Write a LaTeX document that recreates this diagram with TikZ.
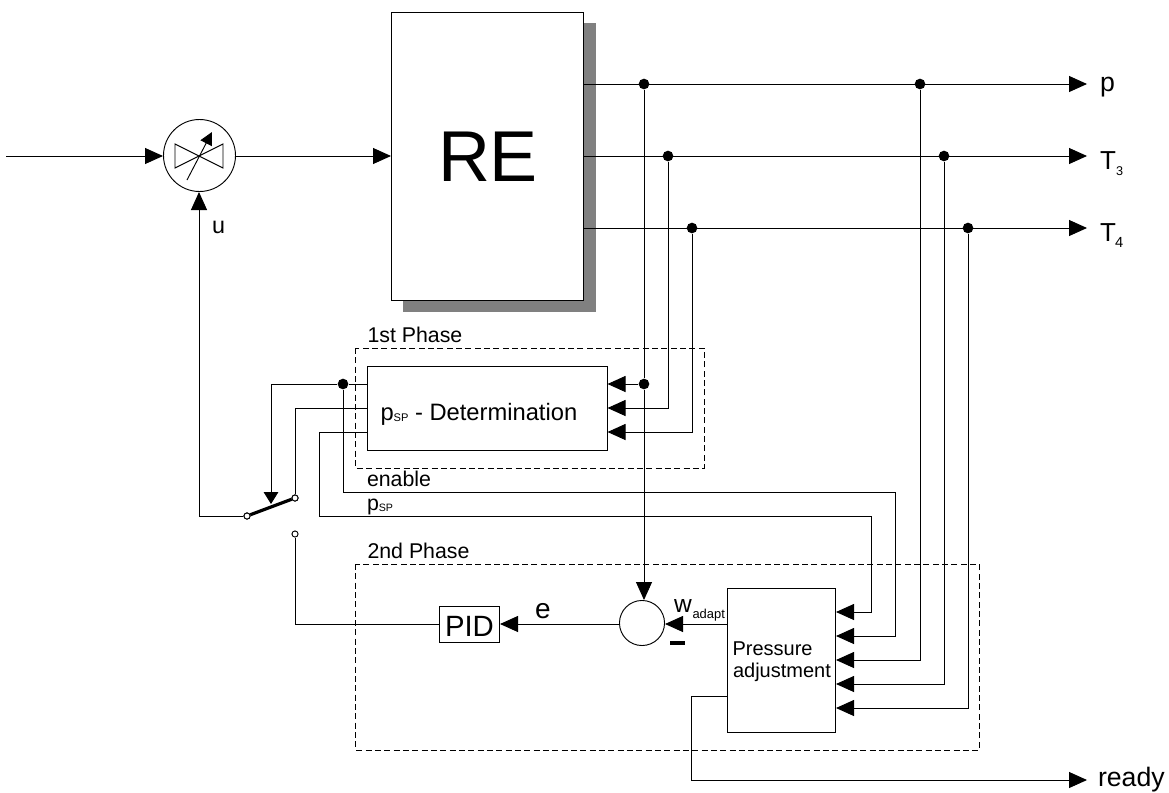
\documentclass[tikz,border=0pt]{standalone}
\usepackage{fontspec}
\setmainfont{Liberation Sans}
\usetikzlibrary{arrows.meta,calc}
\newcommand{\fs}[1]{\fontsize{#1}{#1}\selectfont}
\tikzset{
  wire/.style={line width=0.7pt,black},
  arr/.style={wire,-{Triangle[length=13.5pt,width=12pt]}},
  blockbox/.style={draw=black,line width=0.7pt,fill=white,rectangle,inner sep=0pt,outer sep=0pt},
  phasebox/.style={draw=black,line width=0.6pt,dash pattern=on 4.5pt off 2.5pt},
  dotnode/.style={circle,fill=black,inner sep=0pt,minimum size=8pt},
  contact/.style={circle,draw=black,fill=white,line width=0.7pt,inner sep=0pt,minimum size=4.6pt},
  txt/.style={anchor=base west,inner sep=0pt,outer sep=0pt,text=black},
}
\begin{document}
\begin{tikzpicture}[x=0.75pt,y=-0.75pt]
\useasboundingbox (0,0) rectangle (1169,792);
% shadow + phase frames
\fill[black!50] (403,23) rectangle (596,312);
\draw[phasebox] (355.5,348) rectangle (704,468);
\draw[phasebox] (355.5,564) rectangle (979,750);

% blocks
\node[blockbox,minimum width=144pt,minimum height=216pt] (re) at (487.25,156) {};
\node[blockbox,minimum width=180.4pt,minimum height=63pt] (det) at (487.25,408) {};
\node[blockbox,minimum width=81.4pt,minimum height=108pt] (pa) at (781.25,660) {};
\node[blockbox,minimum width=45.4pt,minimum height=27pt] (pid) at (469.25,624) {};
\node[circle,draw=black,line width=0.7pt,fill=white,inner sep=0pt,minimum size=54pt] (valve) at (199.5,155.5) {};
\node[circle,draw=black,line width=0.7pt,fill=white,inner sep=0pt,minimum size=33.8pt] (sum) at (642,623) {};

% coordinates
\coordinate (in) at (6,156);
\coordinate (reIn) at (391,156);
\coordinate (vOut) at (235.5,156);
\coordinate (vIn) at (163,156);
\coordinate (vBot) at (199,192);
\coordinate (outP) at (1087,84);
\coordinate (outT3) at (1087,156);
\coordinate (outT4) at (1087,228);
\coordinate (outR) at (1087,780);
\coordinate (reP) at (583.5,84);
\coordinate (reT3) at (583.5,156);
\coordinate (reT4) at (583.5,228);
\node[dotnode] (jp) at (644,84) {};
\node[dotnode] (jt3) at (668,156) {};
\node[dotnode] (jt4) at (692,228) {};
\node[dotnode] (jP) at (920,84) {};
\node[dotnode] (jT3) at (944,156) {};
\node[dotnode] (jT4) at (968,228) {};
\node[dotnode] (jd) at (644,384) {};
\node[dotnode] (jen) at (343,384) {};
\coordinate (d1) at (607.5,384);
\coordinate (d2) at (607.5,408);
\coordinate (d3) at (607.5,432);
\coordinate (dl1) at (367,384);
\coordinate (dl2) at (367,408);
\coordinate (dl3) at (367,432);
\coordinate (pa1) at (836,612);
\coordinate (pa2) at (836,636);
\coordinate (pa3) at (836,660);
\coordinate (pa4) at (836,684);
\coordinate (pa5) at (836,708);
\coordinate (paW) at (727,624);
\coordinate (paR) at (727,696);
\coordinate (sumE) at (665,624);
\coordinate (sumW) at (619,624);
\coordinate (sumT) at (644,600);
\coordinate (pidE) at (500,624);
\coordinate (pidW) at (439,624);

% main path
\draw[arr] (in) -- (vIn);
\draw[arr] (vOut) -- (reIn);
\draw[arr] (reP) -- (outP);
\draw[arr] (reT3) -- (outT3);
\draw[arr] (reT4) -- (outT4);

% to 1st phase
\draw[wire] (jp) -- (jd);
\draw[arr] (jd) -- (d1);
\draw[arr] (jt3) |- (d2);
\draw[arr] (jt4) |- (d3);
\draw[arr] (jd) -- (sumT);

% to pressure adjustment
\draw[arr] (jP) |- (pa3);
\draw[arr] (jT3) |- (pa4);
\draw[arr] (jT4) |- (pa5);
\draw[arr] (jen) -- (343,492) -- (895,492) |- (pa2);
\draw[arr] (dl3) -- (319,432) -- (319,516) -- (871,516) |- (pa1);
\draw[wire] (dl1) -- (jen);

% second phase
\draw[arr] (paW) -- (sumE);
\draw[arr] (sumW) -- (pidE);
\draw[arr] (paR) -- (691.5,696) -- (691.5,780) -- (outR);
\fill[black] (670,640.5) rectangle (685,645) ;

% switch
\node[contact] (sA) at (247,516) {};
\node[contact] (sB) at (295,498) {};
\node[contact] (sC) at (295,534) {};
\coordinate (sArm) at (271,504);
\draw[wire] (dl2) -- (295,408) -- (sB);
\draw[wire] (pidW) -- (295,624) -- (sC);
\draw[line width=2.4pt] (sA) -- (sB);
\draw[wire,-{Triangle[length=9pt,width=11pt]}] (jen) -- (271,384) -- (sArm);
\draw[arr] (sA) -- (199,516) -- (vBot);
\node[contact] at (sA) {};
\node[contact] at (sB) {};

% valve symbol
\draw[line width=0.7pt] (175,144) -- (223,168) -- (223,144) -- (175,168) -- cycle;
\draw[line width=0.7pt,-{Triangle[length=9.5pt,width=9.5pt]}] (187,180) -- (212,132);

% texts
\node[txt,font=\fs{54}] (tRE) at (438,181) {RE};
\node[txt,font=\fs{16}] (t1) at (367.5,342) {1st Phase};
\node[txt,font=\fs{16}] (t2) at (367.5,558) {2nd Phase};
\node[txt,font=\fs{16}] (ten) at (367,486) {enable};
\node[txt,font=\fs{16}] (tpsp) at (367,510) {p\raisebox{-1pt}{\fs{8}SP}};
\node[txt,font=\fs{17.8}] (tdet) at (380.5,420) {p\raisebox{-1pt}{\fs{8.3}SP} - Determination};
\node[txt,font=\fs{17.5}] (tu) at (212,233) {u};
\node[txt,font=\fs{18.4}] (tw) at (674,612) {w};
\node[txt,font=\fs{9.7}] (tad) at (692.5,618) {adapt};
\node[txt,font=\fs{15}] (tpr) at (732.5,655) {Pressure};
\node[txt,font=\fs{15}] (tadj) at (733,677) {adjustment};
\node[txt,font=\fs{22}] (tpid) at (445,636) {PID};
\node[txt,font=\fs{21}] (te) at (535,618) {e};
\node[txt,font=\fs{20}] (tp) at (1100,91) {p};
\node[txt,font=\fs{19.5}] (tt3) at (1100,169) {T};
\node[txt,font=\fs{9.5}] (t3) at (1116,175) {3};
\node[txt,font=\fs{19.5}] (tt4) at (1100,241) {T};
\node[txt,font=\fs{11}] (t4) at (1115,247) {4};
\node[txt,font=\fs{20}] (tr) at (1098,786) {ready};
\end{tikzpicture}
\end{document}
